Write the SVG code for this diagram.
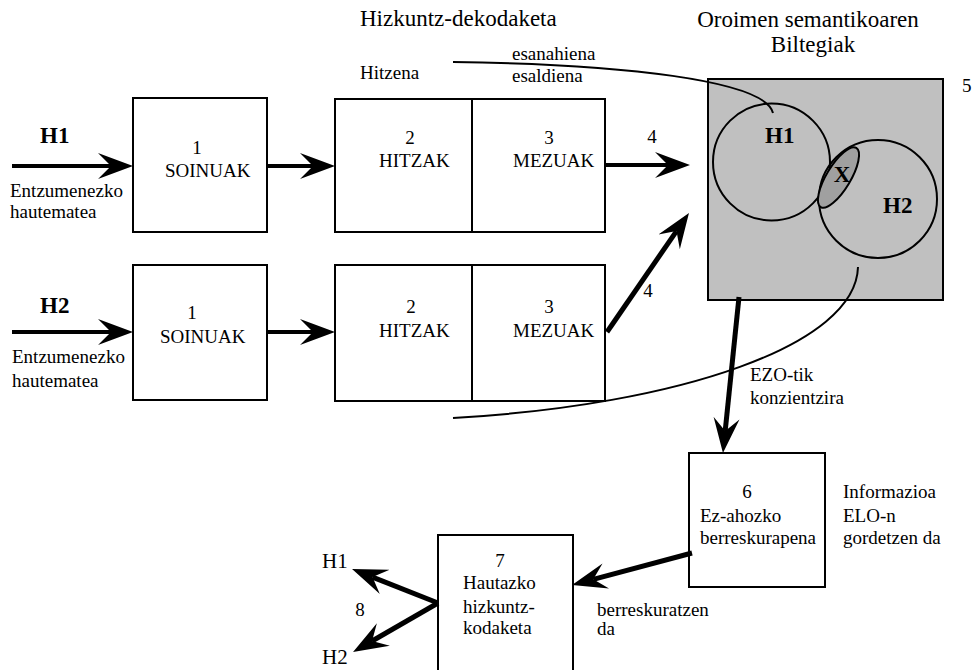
<svg xmlns="http://www.w3.org/2000/svg" width="979" height="670" viewBox="0 0 979 670" font-family="'Liberation Serif', 'Times New Roman', serif">
<style>
text{font-family:'Liberation Serif',serif;font-size:19px;fill:#000}
.b{font-weight:bold;font-size:23px}
.t{font-size:23px}
.m{text-anchor:middle}
.box{fill:#fff;stroke:#000;stroke-width:2}
.cn{fill:none;stroke:#000;stroke-width:2}
.ar{fill:none;stroke:#000;stroke-width:4;marker-end:url(#ah)}
.ar5{fill:none;stroke:#000;stroke-width:5;marker-end:url(#ah)}
</style>
<defs>
<marker id="ah" markerUnits="userSpaceOnUse" markerWidth="36" markerHeight="28" viewBox="0 0 36 28" refX="13" refY="14" orient="auto">
<path d="M35,14 L0,1 L13,14 L0,27 Z" fill="#000"/>
</marker>
</defs>
<rect width="979" height="670" fill="#fff"/>

<text x="360" y="26" class="t">Hizkuntz-dekodaketa</text>
<text x="808" y="27" class="t m">Oroimen  semantikoaren</text>
<text x="813" y="52" class="t m">Biltegiak</text>
<text x="360" y="79">Hitzena</text>
<text x="512" y="60">esanahiena</text>
<text x="512" y="82">esaldiena</text>
<text x="962" y="92">5</text>

<g id="in1">
<text x="40" y="143" class="b">H1</text>
<text x="10" y="197">Entzumenezko</text>
<text x="10" y="218">hautematea</text>
</g>
<g id="in2">
<text x="40" y="313" class="b">H2</text>
<text x="12" y="363">Entzumenezko</text>
<text x="12" y="387">hautematea</text>
</g>

<g id="soinuak1">
<rect x="133" y="98" width="134" height="134" class="box"/>
<text x="197" y="154" class="m">1</text>
<text x="165" y="177">SOINUAK</text>
</g>
<g id="hitzak1">
<rect x="335" y="99" width="137" height="133" class="box"/>
<text x="410" y="144" class="m">2</text>
<text x="379" y="167">HITZAK</text>
</g>
<g id="mezuak1">
<rect x="472" y="99" width="133" height="133" class="box"/>
<text x="549" y="144" class="m">3</text>
<text x="513" y="167">MEZUAK</text>
</g>

<g id="soinuak2">
<rect x="133" y="265" width="134" height="135" class="box"/>
<text x="192" y="319" class="m">1</text>
<text x="160" y="343">SOINUAK</text>
</g>
<g id="hitzak2">
<rect x="335" y="265" width="137" height="136" class="box"/>
<text x="411" y="313" class="m">2</text>
<text x="379" y="337">HITZAK</text>
</g>
<g id="mezuak2">
<rect x="472" y="265" width="133" height="136" class="box"/>
<text x="549" y="313" class="m">3</text>
<text x="513" y="337">MEZUAK</text>
</g>

<g id="biltegiak">
<rect x="708" y="79" width="235" height="221" fill="#c0c0c0" stroke="#000" stroke-width="2"/>
<circle cx="771.5" cy="162" r="58.5" fill="none" stroke="#000" stroke-width="2"/>
<circle cx="878" cy="199" r="59" fill="none" stroke="#000" stroke-width="2"/>
<ellipse cx="838.5" cy="177.5" rx="34.5" ry="12" transform="rotate(-59 838.5 177.5)" fill="#a0a0a0" stroke="#000" stroke-width="2"/>
<text x="765" y="143" class="b">H1</text>
<text x="883" y="213" class="b">H2</text>
<text x="842" y="182" class="b m">X</text>
</g>

<g id="berreskurapena">
<rect x="689" y="453" width="136" height="134" class="box"/>
<text x="747" y="498" class="m">6</text>
<text x="700" y="522">Ez-ahozko</text>
<text x="700" y="544">berreskurapena</text>
</g>
<text x="843" y="498">Informazioa</text>
<text x="843" y="522">ELO-n</text>
<text x="843" y="544">gordetzen  da</text>
<text x="750" y="381">EZO-tik</text>
<text x="750" y="404">konzientzira</text>

<g id="hautazko">
<rect x="438" y="535" width="135" height="140" class="box"/>
<text x="500" y="567" class="m">7</text>
<text x="463" y="589">Hautazko</text>
<text x="463" y="613">hizkuntz-</text>
<text x="463" y="634">kodaketa</text>
</g>
<text x="597" y="616">berreskuratzen</text>
<text x="597" y="635">da</text>

<g id="out">
<text x="322" y="568" style="font-size:21px">H1</text>
<text x="322" y="664" style="font-size:21px">H2</text>
<text x="360" y="616" class="m">8</text>
</g>

<text x="652" y="143" class="m">4</text>
<text x="648" y="297" class="m">4</text>

<g id="connectors">
<path d="M453,62 C620,64 765,80 773,113" class="cn"/>
<path d="M858,267 C856,345 680,405 453,418" class="cn"/>
<line x1="12" y1="166" x2="111" y2="166" class="ar"/>
<line x1="267" y1="166" x2="313" y2="166" class="ar"/>
<line x1="605" y1="165" x2="668" y2="165" class="ar"/>
<line x1="12" y1="332" x2="111" y2="332" class="ar"/>
<line x1="267" y1="332" x2="313" y2="332" class="ar"/>
<line x1="607" y1="332" x2="676.5" y2="231.1" class="ar5"/>
<line x1="739" y1="297" x2="725.2" y2="431.1" class="ar5"/>
<line x1="692" y1="553" x2="593.3" y2="579.3" class="ar5"/>
<line x1="438" y1="603" x2="372.5" y2="577.1" class="ar5"/>
<line x1="438" y1="603" x2="372.1" y2="641" class="ar5"/>
</g>
</svg>
